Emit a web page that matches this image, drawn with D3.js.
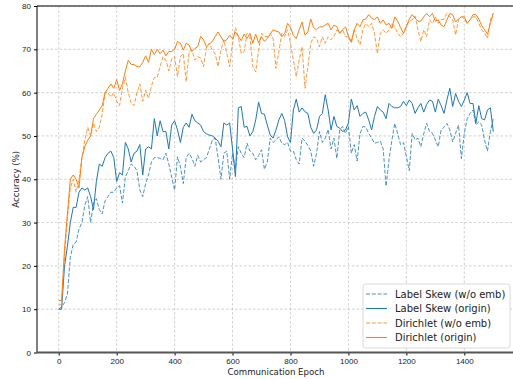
<!DOCTYPE html>
<html>
<head>
<meta charset="utf-8">
<script src="https://cdn.jsdelivr.net/npm/d3@7"></script>
<style>
  body { margin: 0; background: #fff; }
  svg { font-family: "DejaVu Sans", sans-serif; }
</style>
</head>
<body>
<div id="chart"></div>
<script>
// epochs: one reading every 10 epochs, 0..1500
const epochs = d3.range(0, 1501, 10);

const labelSkewNoEmb = [
  10, 10.5, 11.5, 13.5, 22, 25, 25.5, 28.5, 30, 34,
  36, 30, 34.5, 35.5, 33, 32, 35, 36, 37, 37,
  38, 38.5, 34.5, 40.5, 42, 43.5, 43, 42, 37.5, 36,
  39, 41, 44, 45, 45, 44.8, 44.5, 46, 43.5, 40.5,
  37.5, 45.2, 43, 39, 45, 46, 44.8, 43, 45.5, 44,
  44.5, 45, 47, 49, 49.5, 45, 40, 46, 46.5, 40,
  46, 42.5, 47.5, 46, 45, 48.3, 46.5, 46, 44.5, 45.5,
  46.8, 42.3, 44, 49.5, 48.5, 49.1, 49.8, 48.3, 48, 48.5,
  46.5, 46.5, 44.5, 43.5, 49.5, 48.8, 47.8, 46.5, 43, 46,
  51, 48.5, 49.5, 51.5, 47, 49.5, 44.8, 51.4, 52.2, 50.6,
  52.2, 46, 48, 44.2, 50.5, 52.2, 52, 50.6, 49.5, 48.3,
  48.5, 48.8, 47, 38.4, 44.5, 49, 52.9, 50.5, 48, 48.5,
  45.2, 42, 50.6, 49.1, 49.5, 47.5, 50.5, 52.9, 51, 50.6,
  49.1, 47.5, 51.4, 52, 52.9, 51.4, 48.6, 50.6, 52.5, 44.8,
  50.6, 54, 55.2, 56, 52.5, 53.3, 52.5, 49, 46.5, 51,
  54
];

const labelSkewOrigin = [
  10, 10, 20, 24.5, 30, 33.5, 33.5, 37, 38, 37.5,
  38, 36, 33, 39.5, 43.5, 43, 45, 46, 46.5, 45,
  39.5, 41.5, 41, 48.5, 47, 44, 46, 46.5, 48, 41,
  47, 47.5, 47, 54, 50, 53.5, 51, 51, 47, 52.5,
  53.5, 51.4, 48.5, 52, 53, 52, 55, 53.5, 53, 52.5,
  51, 50.5, 50.2, 50, 49.5, 48.8, 47.5, 53, 52.5, 53,
  47, 40.6, 56.5, 56.8, 52, 52.2, 50, 51, 53.7, 57.8,
  55.2, 55, 52.5, 50.2, 49.5, 51.4, 53.7, 55.2, 53.5, 49.8,
  48.5, 56, 58.5, 55.5, 56.5, 55.6, 55.2, 52, 50.6, 51.4,
  54.5, 55.2, 59.5, 56, 51.4, 54.5, 52.2, 51.8, 51, 51.4,
  53, 58.5, 56, 57, 54.5, 55.2, 55.5, 53.7, 51.4, 54.5,
  56.8, 56, 55.5, 54, 57.5, 56.8, 56.5, 56.5, 56.8, 58,
  57, 58.3, 57.5, 55.2, 56.5, 57.5, 55.5, 57.3, 58.3, 58,
  55.5, 58.5, 57, 55.2, 58.3, 61, 56.8, 59.8, 58, 56.8,
  58.3, 60, 57.5, 57.5, 53, 57, 54, 53.7, 56, 56.5,
  51
];

const dirichletNoEmb = [
  11, 11, 22, 31, 38, 40, 37, 40, 45, 49,
  52, 50, 53, 51, 52, 55, 60, 60, 59, 60,
  58, 57, 61, 63.5, 60, 57.5, 57, 60, 62, 58,
  60.6, 58.7, 61.5, 63.5, 63.5, 66, 68.3, 67.5, 65, 67.8,
  68.3, 63.7, 68.3, 69, 62.5, 69.5, 69.8, 67.5, 68.3, 68,
  66, 70.6, 71.4, 69.8, 69, 66, 69.8, 72.2, 69.1, 66,
  71.4, 75, 72.9, 69, 69.5, 73.7, 73, 66, 64.8, 69.8,
  73.7, 73, 72.9, 73.7, 72.5, 65.6, 69.5, 73.7, 73, 74.5,
  71.4, 67.5, 63.7, 67.5, 70.6, 61, 66, 71.4, 72.9, 72.5,
  70.6, 72.9, 71.4, 72.9, 72.2, 73, 74.5, 73.7, 74.5, 72.9,
  72.9, 71.4, 74.5, 72.5, 71, 74.5, 76, 75.2, 76, 73.7,
  69, 73.7, 74.5, 73.7, 74.5, 76, 75.2, 73.7, 72.9, 73.7,
  75.5, 76.5, 76.8, 77.7, 74.5, 71.8, 74.5, 72.9, 76.8, 76,
  77.5, 76, 76.8, 77, 78.3, 77.5, 76.8, 73.3, 76.8, 77.5,
  77, 76, 76.8, 77.5, 77.5, 76, 74.5, 73.7, 72.5, 76.8,
  78.3
];

const dirichletOrigin = [
  12, 12, 24, 32, 40, 41, 40, 38, 45, 47.5,
  49, 50, 54, 55, 56, 57, 60, 61, 62, 61,
  63, 60.5, 62, 65, 67.5, 66.5, 66.5, 66, 66, 67,
  68.5, 67, 70, 68.8, 70, 69, 69.8, 68.5, 69.5, 69.5,
  70, 71.8, 71.4, 69.8, 71.4, 71, 69.5, 70.2, 70.6, 73,
  72.2, 70.6, 71.2, 71.8, 73, 74, 72.9, 71.8, 72.2, 73.3,
  72.5, 74, 73, 72, 73.5, 72.5, 73.7, 71.4, 73.5, 71.5,
  72.9, 71.8, 72.5, 73.5, 74.5, 74.2, 74, 72.9, 73.7, 76,
  75, 73.2, 72.5, 74.5, 76.3, 73.3, 74, 77, 75, 74.5,
  75.2, 75.2, 75.6, 76, 74.5, 75.6, 75.2, 73.7, 74.5, 75.2,
  73, 71.8, 74.5, 76, 75.2, 76.8, 77, 78, 77.2, 76.8,
  77.5, 76, 76.8, 75.6, 76, 74.8, 77.5, 76.5, 75, 73.7,
  75.2, 77, 78, 77.2, 76.5, 76.5, 77.5, 78.3, 77.5, 78.3,
  76.5, 76.8, 75.6, 75.2, 76.8, 78.3, 78, 76.3, 77, 77.5,
  77.5, 76, 76.8, 78, 78, 77, 75.5, 74.5, 73.5, 76,
  78.3
];

const seriesNames = ["Label Skew (w/o emb)", "Label Skew (origin)", "Dirichlet (w/o emb)", "Dirichlet (origin)"];
const seriesValues = [labelSkewNoEmb, labelSkewOrigin, dirichletNoEmb, dirichletOrigin];
const seriesColors = ["#1f77b4", "#1f77b4", "#ff7f0e", "#ff7f0e"];
const seriesDashed = [true, false, true, false];

const xTicks = [0, 200, 400, 600, 800, 1000, 1200, 1400];
const yTicks = [0, 10, 20, 30, 40, 50, 60, 70, 80];

const width = 513, height = 379;
const plotLeft = 37, plotRight = 515, plotTop = 6, plotBottom = 352.5;

const svg = d3.select('#chart')
  .append('svg')
  .attr('width', width)
  .attr('height', height);

const x = d3.scaleLinear().domain([-75, 1575]).range([plotLeft, plotRight]);
const y = d3.scaleLinear().domain([0, 80]).range([plotBottom, plotTop]);

// grid
svg.append('g')
  .selectAll('line')
  .data(xTicks)
  .join('line')
  .attr('x1', d => x(d)).attr('x2', d => x(d))
  .attr('y1', plotTop).attr('y2', plotBottom)
  .attr('stroke', '#b0b0b0').attr('stroke-width', 0.8)
  .attr('stroke-dasharray', '2.5,2').attr('opacity', 0.7);
svg.append('g')
  .selectAll('line')
  .data(yTicks.slice(1))
  .join('line')
  .attr('x1', plotLeft).attr('x2', plotRight)
  .attr('y1', d => y(d)).attr('y2', d => y(d))
  .attr('stroke', '#b0b0b0').attr('stroke-width', 0.8)
  .attr('stroke-dasharray', '2.5,2').attr('opacity', 0.7);

// lines
const line = d3.line()
  .x((d, i) => x(epochs[i]))
  .y(d => y(d));

seriesValues.forEach((vals, k) => {
  svg.append('path')
    .datum(vals)
    .attr('fill', 'none')
    .attr('stroke', seriesColors[k])
    .attr('stroke-width', 1)
    .attr('stroke-linejoin', 'round')
    .attr('stroke-dasharray', seriesDashed[k] ? '4,1.8' : null)
    .attr('opacity', seriesDashed[k] ? 0.8 : 1)
    .attr('d', line);
});

// axes
const xAxis = svg.append('g')
  .attr('transform', `translate(0,${plotBottom})`)
  .call(d3.axisBottom(x).tickValues(xTicks).tickFormat(d3.format('d')).tickSize(3).tickPadding(3));
xAxis.select('.domain').remove();
xAxis.selectAll('text').attr('font-size', 8).attr('fill', '#222');

const yAxis = svg.append('g')
  .attr('transform', `translate(${plotLeft},0)`)
  .call(d3.axisLeft(y).tickValues(yTicks).tickFormat(d3.format('d')).tickSize(3).tickPadding(3));
yAxis.select('.domain').remove();
yAxis.selectAll('text').attr('font-size', 8).attr('fill', '#222');

// spines
svg.append('line').attr('x1', plotLeft).attr('x2', plotLeft).attr('y1', plotTop).attr('y2', plotBottom)
  .attr('stroke', '#000').attr('stroke-width', 1);
svg.append('line').attr('x1', plotLeft).attr('x2', plotRight).attr('y1', plotTop).attr('y2', plotTop)
  .attr('stroke', '#000').attr('stroke-width', 1);
svg.append('line').attr('x1', plotLeft).attr('x2', plotRight).attr('y1', plotBottom).attr('y2', plotBottom)
  .attr('stroke', '#555').attr('stroke-width', 2);

// axis labels
svg.append('text')
  .attr('x', (plotLeft + plotRight) / 2).attr('y', 375)
  .attr('text-anchor', 'middle')
  .attr('font-size', 8.6).attr('fill', '#222')
  .text('Communication Epoch');
svg.append('text')
  .attr('transform', `translate(16,${(plotTop + plotBottom) / 2}) rotate(-90)`)
  .attr('text-anchor', 'middle')
  .attr('dominant-baseline', 'central')
  .attr('font-size', 8.6).attr('fill', '#222')
  .text('Accuracy (%)');

// legend
const legend = svg.append('g');
legend.append('rect')
  .attr('x', 363).attr('y', 284).attr('width', 147).attr('height', 64)
  .attr('rx', 3)
  .attr('fill', '#fff').attr('fill-opacity', 0.85)
  .attr('stroke', '#d0d0d0').attr('stroke-width', 0.8);
seriesNames.forEach((name, k) => {
  const ly = 294 + k * 14.5;
  legend.append('line')
    .attr('x1', 366).attr('x2', 387).attr('y1', ly).attr('y2', ly)
    .attr('stroke', seriesColors[k]).attr('stroke-width', 1.1)
    .attr('stroke-dasharray', seriesDashed[k] ? '4,1.8' : null)
    .attr('opacity', seriesDashed[k] ? 0.8 : 1);
  legend.append('text')
    .attr('x', 395).attr('y', ly)
    .attr('dominant-baseline', 'central')
    .attr('font-size', 10).attr('fill', '#222')
    .text(name);
});
</script>
</body>
</html>
